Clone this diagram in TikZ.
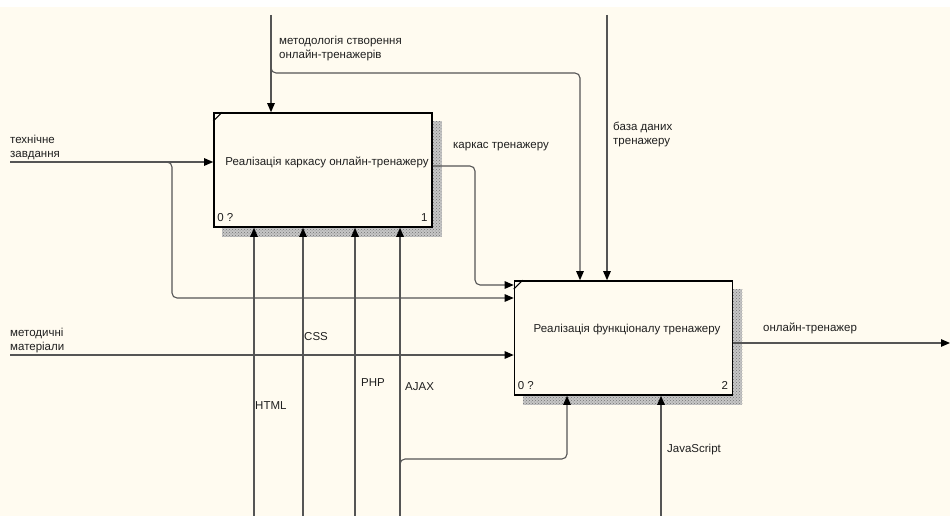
\documentclass[tikz,border=0pt]{standalone}
\usepackage{fontspec}
\setmainfont{Liberation Sans}
\usetikzlibrary{arrows.meta,patterns,backgrounds}
\definecolor{paper}{RGB}{255,251,240}
\definecolor{wire}{RGB}{85,85,85}
\begin{document}
\begin{tikzpicture}[x=1pt,y=-1pt,
  font=\fontsize{11.5}{14}\selectfont,
  actbox/.style={draw=black, line width=1.6pt, fill=paper, minimum width=218pt,
    minimum height=114pt, inner sep=0pt},
  hatchbase/.style={fill=gray!45},
  hatch/.style={pattern=crosshatch dots, pattern color=gray!90!black},
  wire/.style={draw=wire, line width=1.1pt, rounded corners=5pt},
  arr/.style={wire, -{Triangle[length=9pt,width=7.5pt,color=black]}},
  lbl/.style={anchor=west, inner sep=0pt, align=left, text=black!88},
  title/.style={inner sep=0pt, text=black!88},
  corner/.style={inner sep=0pt, text=black!88}
]
\useasboundingbox (0,0) rectangle (950,516);

% activity boxes
\node[actbox] (b1) at (323,170) {};
\node[actbox] (b2) at (623.5,338) {};

% paper and hatched shadows behind the boxes
\begin{scope}[on background layer]
  \fill[paper] (0,0) rectangle (950,516);
  \fill[white] (0,0) rectangle (950,7);
  \foreach \b in {b1,b2} {
    \fill[hatchbase] ([xshift=9pt,yshift=-9pt]\b.north west) rectangle ([xshift=9pt,yshift=-9pt]\b.south east);
    \fill[hatch] ([xshift=9pt,yshift=-9pt]\b.north west) rectangle ([xshift=9pt,yshift=-9pt]\b.south east);
  }
\end{scope}

% box corner marks and numbering
\foreach \b/\n in {b1/1, b2/2} {
  \draw[line width=1pt] ([yshift=-9pt]\b.north west) -- ([xshift=9pt]\b.north west);
  \node[corner, anchor=west] (\b zero) at ([xshift=4pt,yshift=10pt]\b.south west) {0 ?};
  \node[corner, anchor=east] (\b num) at ([xshift=-5pt,yshift=10pt]\b.south east) {\n};
}
\node[title] (t1) at (327,162) {Реалізація каркасу онлайн-тренажеру};
\node[title] (t2) at (627,330) {Реалізація функціоналу тренажеру};

% free ends of the boundary arrows
\coordinate (meth) at (271,15);
\coordinate (db) at (607,15);
\coordinate (tz) at (10,162);
\coordinate (mm) at (10,355);
\coordinate (out) at (950,343);
\coordinate (html) at (254,516);
\coordinate (css) at (303,516);
\coordinate (php) at (355,516);
\coordinate (ajax) at (400,516);
\coordinate (js) at (661,516);

% controls
\draw[arr] (meth) -- (meth |- b1.north);
\draw[arr] (271,66) -- (271,73) -- (580,73) -- (b2.north -| 580,0);
\draw[arr] (db) -- (db |- b2.north);

% inputs
\draw[arr] (tz) -- (tz -| b1.west);
\draw[arr] (165,162) -- (172,162) -- (172,298) -- (b2.west |- 0,298);
\draw[arr] (mm) -- (mm -| b2.west);
\draw[arr] (b1.east |- 0,166) -- (475,166) -- (475,285) -- (b2.west |- 0,285);

% output
\draw[arr] (b2.east |- out) -- (out);

% mechanisms
\draw[arr] (html) -- (html |- b1.south);
\draw[arr] (css) -- (css |- b1.south);
\draw[arr] (php) -- (php |- b1.south);
\draw[arr] (ajax) -- (ajax |- b1.south);
\draw[arr] (400,466) -- (400,459) -- (567,459) -- (b2.south -| 567,0);
\draw[arr] (js) -- (js |- b2.south);

% arrow labels
\node[lbl] (lmeth) at (279,49) {методологія створення\\онлайн-тренажерів};
\node[lbl] (lkarkas) at (453,147) {каркас тренажеру};
\node[lbl] (ldb) at (613,134) {база даних\\тренажеру};
\node[lbl] (ltz) at (10,147) {технічне\\завдання};
\node[lbl] (lmm) at (10,341) {методичні\\матеріали};
\node[lbl] (lout) at (763,328) {онлайн-тренажер};
\node[lbl] (lcss) at (304,337) {CSS};
\node[lbl] (lhtml) at (255,406) {HTML};
\node[lbl] (lphp) at (361,383) {PHP};
\node[lbl] (lajax) at (405,387) {AJAX};
\node[lbl] (ljs) at (667,450) {JavaScript};
\end{tikzpicture}
\end{document}
